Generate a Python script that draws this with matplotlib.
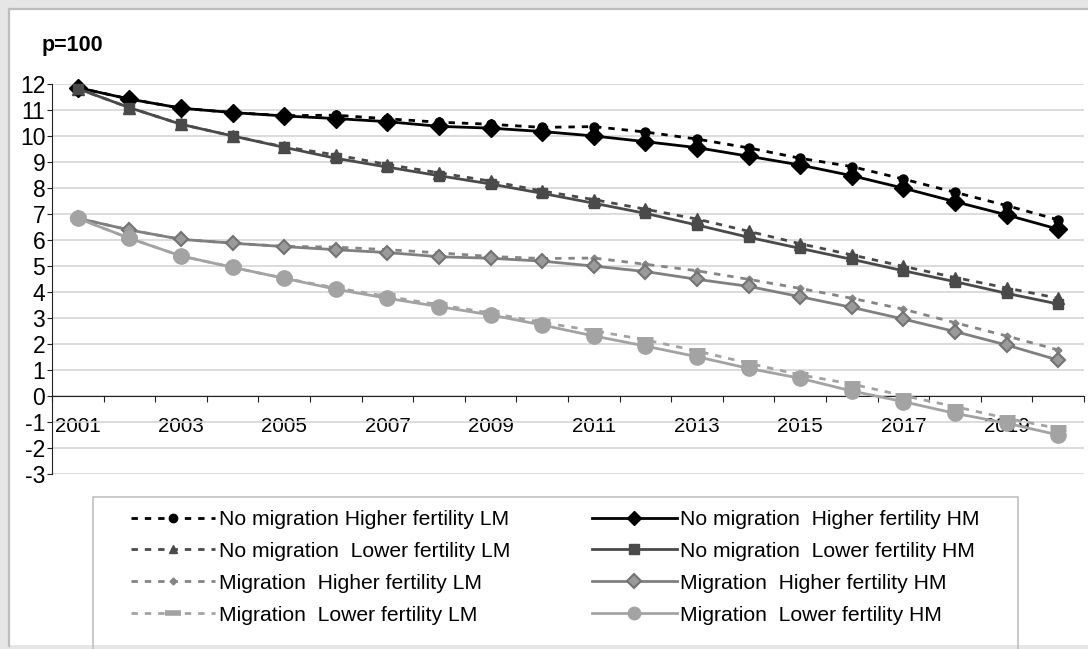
import matplotlib
matplotlib.use("Agg")
import matplotlib.pyplot as plt
from matplotlib.lines import Line2D
from matplotlib.patches import Rectangle

plt.rcParams['font.family'] = ['Liberation Sans', 'DejaVu Sans']
plt.rcParams['axes.unicode_minus'] = False

# data
years = list(range(2001, 2021))
year_labels = ['2001', '2003', '2005', '2007', '2009', '2011', '2013', '2015', '2017', '2019']

nomig_high_lm = [11.86, 11.42, 11.07, 10.90, 10.78, 10.80, 10.66, 10.53, 10.45, 10.33,
                 10.36, 10.15, 9.88, 9.54, 9.14, 8.82, 8.34, 7.83, 7.32, 6.77]
nomig_high_hm = [11.86, 11.42, 11.07, 10.90, 10.77, 10.67, 10.55, 10.37, 10.30, 10.17,
                 10.00, 9.78, 9.55, 9.22, 8.88, 8.47, 7.99, 7.47, 6.96, 6.41]
nomig_low_lm = [11.82, 11.09, 10.45, 10.00, 9.58, 9.27, 8.90, 8.58, 8.26, 7.88,
                7.55, 7.18, 6.80, 6.33, 5.85, 5.42, 4.98, 4.55, 4.15, 3.75]
nomig_low_hm = [11.82, 11.09, 10.45, 10.00, 9.56, 9.14, 8.80, 8.47, 8.15, 7.79,
                7.41, 7.02, 6.57, 6.10, 5.67, 5.25, 4.81, 4.39, 3.94, 3.53]
mig_high_lm = [6.83, 6.38, 6.02, 5.87, 5.75, 5.72, 5.62, 5.50, 5.36, 5.28,
               5.30, 5.06, 4.81, 4.48, 4.13, 3.75, 3.33, 2.81, 2.30, 1.76]
mig_high_hm = [6.83, 6.38, 6.02, 5.87, 5.74, 5.62, 5.51, 5.35, 5.29, 5.18,
               4.99, 4.78, 4.48, 4.21, 3.81, 3.40, 2.95, 2.47, 1.95, 1.37]
mig_low_lm = [6.83, 6.06, 5.38, 4.94, 4.52, 4.15, 3.82, 3.50, 3.18, 2.82,
              2.50, 2.15, 1.72, 1.25, 0.80, 0.45, 0.00, -0.42, -0.87, -1.26]
mig_low_hm = [6.83, 6.06, 5.38, 4.94, 4.52, 4.10, 3.75, 3.43, 3.11, 2.72,
              2.30, 1.91, 1.50, 1.05, 0.67, 0.18, -0.23, -0.68, -1.06, -1.51]

W, H = 1088, 649
fig = plt.figure(figsize=(W / 100, H / 100), dpi=100)
fig.patch.set_facecolor('#e6e6e6')

# white chart area with a grey edge on the left and top
fig.patches.append(Rectangle((10 / W, 1 - 645 / H), 1, (645 - 10) / H,
                             transform=fig.transFigure, facecolor='white',
                             edgecolor='none', zorder=-2))
fig.lines.append(Line2D([9 / W, 9 / W], [1 - 646 / H, 1 - 9 / H], transform=fig.transFigure,
                        color='#bdbdbd', lw=1.6, zorder=-1))
fig.lines.append(Line2D([9 / W, 1], [1 - 9 / H, 1 - 9 / H], transform=fig.transFigure,
                        color='#bdbdbd', lw=1.6, zorder=-1))
# legend box
fig.patches.append(Rectangle((93 / W, 1 - 652 / H), (1018 - 93) / W, (652 - 497) / H,
                             transform=fig.transFigure, facecolor='none',
                             edgecolor='#c0c0c0', lw=1.2, zorder=-1))

ax = fig.add_axes([52 / W, 1 - 473.6 / H, 1032 / W, (473.6 - 84) / H])
ax.set_facecolor('none')
ax.set_zorder(2)
x = list(range(len(years)))

lw = 2.0
dash = (0, (2.3, 2.5))
styles = [
    # data, color, linestyle, marker, size, face, edge, mew
    (nomig_high_lm, '#000000', dash, 'o', 6.5, '#000000', '#000000', 1),
    (nomig_low_lm, '#4a4a4a', dash, '^', 8, '#4a4a4a', '#4a4a4a', 1),
    (mig_high_lm, '#858585', dash, 'D', 3.5, '#858585', '#858585', 1),
    (mig_low_lm, '#a3a3a3', dash, '_', 11, '#a3a3a3', '#a3a3a3', 5),
    (nomig_high_hm, '#000000', '-', 'D', 9.5, '#000000', '#000000', 1),
    (nomig_low_hm, '#4a4a4a', '-', 's', 7, '#4a4a4a', '#4a4a4a', 1),
    (mig_high_hm, '#808080', '-', 'D', 7, '#9a9a9a', '#737373', 1.5),
    (mig_low_hm, '#a3a3a3', '-', 'o', 11, '#a3a3a3', '#a3a3a3', 1),
]
for data, c, ls, m, ms, fc, ec, mew in styles:
    ax.plot(x, data, color=c, ls=ls, lw=lw, marker=m, ms=ms, mfc=fc, mec=ec,
            mew=mew, clip_on=False, zorder=3)

ax.set_xlim(-0.5, len(years) - 0.5)
ax.set_ylim(-3, 12)
ax.set_yticks(range(-3, 13))
ax.yaxis.grid(True, color='#d6d6d6', lw=1.2)
ax.set_axisbelow(True)

ax.spines['top'].set_visible(False)
ax.spines['right'].set_visible(False)
ax.spines['bottom'].set_position(('data', 0))
ax.spines['bottom'].set_color('#222222')
ax.spines['left'].set_color('#222222')

ax.set_xticks([i - 0.5 for i in range(len(years) + 1)])
ax.set_xticklabels([])
ax.set_xticks(x[::2], minor=True)
ax.set_xticklabels(year_labels, minor=True)
ax.tick_params(axis='x', which='major', direction='out', length=4.5, color='#222222')
ax.tick_params(axis='x', which='minor', length=0, pad=15.5, labelsize=14.8)
ax.tick_params(axis='y', direction='out', length=3.6, pad=1.2, labelsize=16.5,
               color='#222222')

fig.text(42 / W, 1 - 45 / H, 'p=100', fontsize=15.5, fontweight='bold', va='center')

labels = ['No migration Higher fertility LM', 'No migration  Lower fertility LM',
          'Migration  Higher fertility LM', 'Migration  Lower fertility LM',
          'No migration  Higher fertility HM', 'No migration  Lower fertility HM',
          'Migration  Higher fertility HM', 'Migration  Lower fertility HM']
leg_sizes = [6, 6, 3.5, 11, 7, 6.5, 7, 9]
handles = []
for (data, c, ls, m, ms, fc, ec, mew), lms in zip(styles, leg_sizes):
    handles.append(Line2D([], [], color=c, ls=ls, lw=lw, marker=m, ms=lms,
                          mfc=fc, mec=ec, mew=min(mew, 4)))

fig.legend(handles, labels, loc='upper left', bbox_to_anchor=(121 / W, 1 - 500 / H),
           ncol=2, frameon=False, fontsize=15.2, handlelength=4.0, handletextpad=0.15,
           columnspacing=3.9, labelspacing=0.61, borderpad=0.47, borderaxespad=0)

fig.savefig('out.png', dpi=100, facecolor=fig.get_facecolor())
